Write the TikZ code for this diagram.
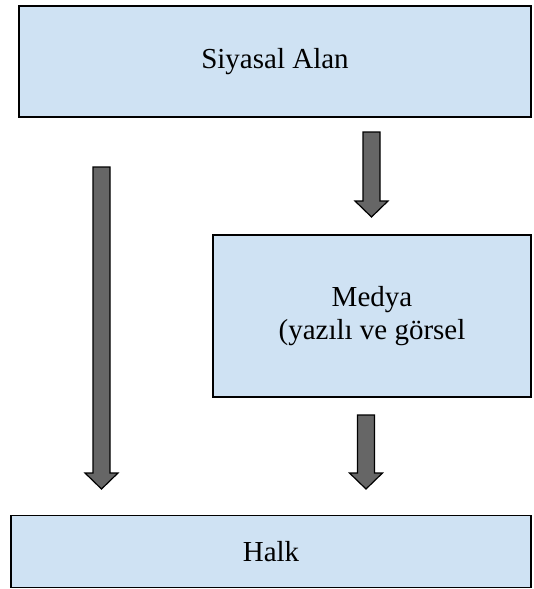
\documentclass[tikz,border=0pt]{standalone}
\usepackage{fontspec}
\setmainfont{Liberation Serif}
\usetikzlibrary{calc}
\definecolor{boxblue}{RGB}{207,226,243}
\definecolor{arrowgray}{RGB}{102,102,102}

\begin{document}
\begin{tikzpicture}[x=1pt,y=-1pt,
  box/.style={draw=black, fill=boxblue, line width=1.3pt, inner sep=0pt,
    font=\fontsize{29}{33}\selectfont, align=center},
  fat/.style={draw=black, fill=arrowgray, line width=1.2pt, line join=miter,
    to path={let \p1=(\tikztostart), \p2=(\tikztotarget) in
      (\x1-8.5pt,\y1) -- (\x1+8.5pt,\y1) -- (\x1+8.5pt,\y2+16pt) -- (\x1+16.5pt,\y2+16pt)
      -- (\x2,\y2) -- (\x1-16.5pt,\y2+16pt) -- (\x1-8.5pt,\y2+16pt) -- cycle}}]
	\useasboundingbox (0,0) rectangle (533,589);
	% boxes
	\node[box, minimum width=512pt, minimum height=111pt] (siyasal) at (275,61.5) {Siyasal Alan};
	\node[box, minimum width=318pt, minimum height=162pt] (medya) at (372,316) {Medya\\(yazılı ve görsel};
	\node[box, minimum width=520pt, minimum height=72pt] (halk) at (271,551.5) {Halk};
	% arrow ends
	\coordinate (s1) at (101.5,167); \coordinate (h1) at (101.5,489);
	\coordinate (s2) at (371.5,132); \coordinate (m2) at (371.5,217);
	\coordinate (m3) at (366,415);   \coordinate (h3) at (366,489);
	\draw[fat] (s1) to (h1);
	\draw[fat] (s2) to (m2);
	\draw[fat] (m3) to (h3);
\end{tikzpicture}
\end{document}
